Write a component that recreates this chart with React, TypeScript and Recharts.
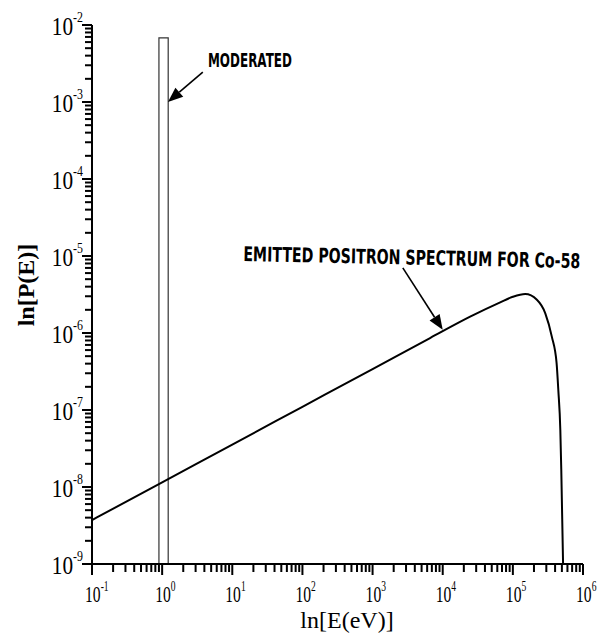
import {
  LineChart,
  Line,
  XAxis,
  YAxis,
  ReferenceArea,
  ReferenceLine,
  ReferenceDot
} from "recharts";

// energy (eV) and probability
const energies = [
  0.1, 1, 10, 100, 1000, 6600, 2.46e4, 6.6e4, 1.0e5, 1.5e5, 2.2e5, 2.9e5, 3.6e5,
  4.2e5, 4.45e5, 4.75e5, 4.9e5, 5.2e5
];
const probabilities = [
  3.72e-9, 1.15e-8, 3.56e-8, 1.1e-7, 3.4e-7, 8.6e-7, 1.63e-6, 2.5e-6, 2.95e-6,
  3.2e-6, 2.7e-6, 1.8e-6, 8.9e-7, 4.1e-7, 1.8e-7, 5.5e-8, 1.7e-8, 1e-9
];

// moderated peak: narrow box around 1 eV
const moderatedRange = [0.9, 1.22];
const moderatedTop = 6.8e-3;

const xDecades = [1e-1, 1, 1e1, 1e2, 1e3, 1e4, 1e5, 1e6];
const yDecades = [1e-9, 1e-8, 1e-7, 1e-6, 1e-5, 1e-4, 1e-3, 1e-2];

// annotation anchors in data coords
const moderatedLabel = { x: 4.5, y: 2.85e-3, text: "MODERATED" };
const moderatedArrow = [{ x: 3.8, y: 2.45e-3 }, { x: 1.21, y: 1e-3 }];
const spectrumLabel = {
  x: 14.3,
  y: 8.6e-6,
  text: "EMITTED POSITRON SPECTRUM FOR Co-58"
};
const spectrumArrow = [{ x: 2700, y: 7e-6 }, { x: 1.0e4, y: 1.1e-6 }];

const data = energies.map((e, i) => ({ e, p: probabilities[i] }));

const withMinors = (decades: number[]) => [
  ...decades,
  ...decades.slice(0, -1).flatMap((d) => [2, 3, 4, 5, 6, 7, 8, 9].map((k) => k * d))
];
const xTicks = withMinors(xDecades).sort((a, b) => a - b);
const yTicks = withMinors(yDecades).sort((a, b) => a - b);

const isDecade = (v: number) =>
  Math.abs(Math.log10(v) - Math.round(Math.log10(v))) < 1e-6;

const serif = "'Liberation Serif', 'Times New Roman', serif";
const plotter = "'DejaVu Sans', sans-serif";
const ink = "#000000";

// tick x/y arrive 6px (tickSize) outside the axis line
function XTick(props: any) {
  const { x, y, payload } = props;
  const major = isDecade(payload.value);
  const exp = Math.round(Math.log10(payload.value));
  return (
    <g>
      <rect x={x - 1} y={y - 6} width={2} height={major ? 11 : 8} fill={ink} />
      {major && (
        <g transform={`translate(${x - 7},${y + 32}) scale(0.68,1)`}>
          <text x={0} y={0} fontFamily={serif} fontSize={23} fill={ink}>
            10<tspan dy={-11} fontSize={14}>{exp}</tspan>
          </text>
        </g>
      )}
    </g>
  );
}

function YTick(props: any) {
  const { x, y, payload } = props;
  const major = isDecade(payload.value);
  const exp = Math.round(Math.log10(payload.value));
  const len = major ? 10 : 7;
  return (
    <g>
      <rect x={x + 6 - len} y={y - 1} width={len} height={2} fill={ink} />
      {major && (
        <g transform={`translate(${x - 3},${y + 10}) scale(0.85,1)`}>
          <text x={0} y={0} textAnchor="end" fontFamily={serif} fontSize={25} fill={ink}>
            10<tspan dy={-13} fontSize={14}>{exp}</tspan>
          </text>
        </g>
      )}
    </g>
  );
}

function Arrow(props: any) {
  const { x1, y1, x2, y2 } = props;
  const dx = x2 - x1;
  const dy = y2 - y1;
  const len = Math.sqrt(dx * dx + dy * dy);
  const ux = dx / len;
  const uy = dy / len;
  const head = 15;
  const bx = x2 - ux * head;
  const by = y2 - uy * head;
  const w = 6;
  return (
    <g>
      <line x1={x1} y1={y1} x2={bx} y2={by} stroke={ink} strokeWidth={1.6} />
      <polygon
        points={`${x2},${y2} ${bx - uy * w},${by + ux * w} ${bx + uy * w},${by - ux * w}`}
        fill={ink}
      />
    </g>
  );
}

function Note(props: any, text: string, width: number, angle: number) {
  const { cx, cy } = props;
  return (
    <text x={0} y={0} fontFamily={plotter} fontWeight="bold" fontSize={14}
      textLength={width} lengthAdjust="spacingAndGlyphs" fill={ink}
      transform={`translate(${cx},${cy}) rotate(${angle}) scale(1,1.45)`}>
      {text}
    </text>
  );
}

export default function App() {
  return (
    <div style={{ position: "absolute", left: 0, top: 0, background: "#fff" }}>
      <LineChart
        width={598}
        height={639}
        data={data}
        margin={{ top: 25, right: 15, bottom: 0, left: 0 }}
      >
        <XAxis
          dataKey="e"
          type="number"
          scale="log"
          domain={[0.1, 1e6]}
          allowDataOverflow
          ticks={xTicks}
          interval={0}
          tick={<XTick />}
          tickLine={false}
          tickSize={6}
          tickMargin={0}
          height={75}
          axisLine={{ stroke: ink, strokeWidth: 2 }}
          label={{
            content: () => (
              <text x={347} y={628} textAnchor="middle" fontFamily={serif}
                fontSize={24} fill={ink}>ln[E(eV)]</text>
            )
          }}
        />
        <YAxis
          type="number"
          scale="log"
          domain={[1e-9, 1e-2]}
          allowDataOverflow
          ticks={yTicks}
          interval={0}
          tick={<YTick />}
          tickLine={false}
          tickSize={6}
          tickMargin={0}
          width={92}
          axisLine={{ stroke: ink, strokeWidth: 2 }}
          label={{
            content: () => (
              <text x={34} y={285} textAnchor="middle" fontFamily={serif}
                fontWeight="bold" fontSize={24} fill={ink}
                transform="rotate(-90 34 285)">ln[P(E)]</text>
            )
          }}
        />
        <ReferenceArea
          x1={moderatedRange[0]}
          x2={moderatedRange[1]}
          y1={1e-9}
          y2={moderatedTop}
          fill="none"
          stroke="#333"
          strokeWidth={1.2}
          ifOverflow="visible"
        />
        <Line
          dataKey="p"
          type="monotone"
          stroke={ink}
          strokeWidth={2}
          dot={false}
          isAnimationActive={false}
        />
        <ReferenceLine segment={moderatedArrow} shape={<Arrow />} ifOverflow="visible" />
        <ReferenceLine segment={spectrumArrow} shape={<Arrow />} ifOverflow="visible" />
        <ReferenceDot
          x={moderatedLabel.x}
          y={moderatedLabel.y}
          r={0}
          ifOverflow="visible"
          shape={(p: any) => Note(p, moderatedLabel.text, 84, 0)}
        />
        <ReferenceDot
          x={spectrumLabel.x}
          y={spectrumLabel.y}
          r={0}
          ifOverflow="visible"
          shape={(p: any) => Note(p, spectrumLabel.text, 337, 1.2)}
        />
      </LineChart>
    </div>
  );
}
